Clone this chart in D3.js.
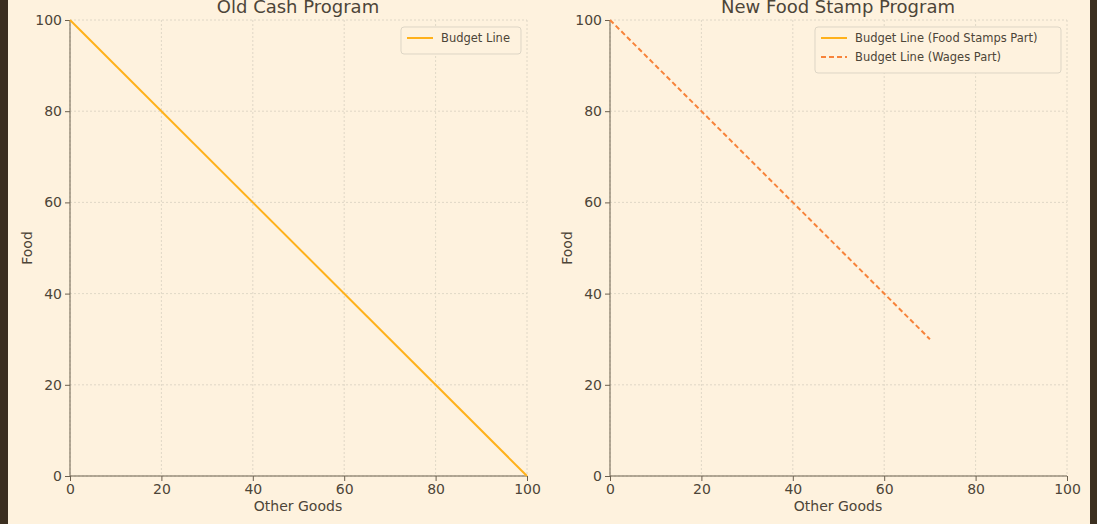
<!DOCTYPE html><html><head><meta charset="utf-8"><script src="https://cdn.jsdelivr.net/npm/d3@7"></script>
<style>body{margin:0;background:#3b2f20;}svg{display:block}</style></head><body><svg id="c" width="1097" height="524"></svg>
<script>
const oldX=[0,100], oldY=[100,0];
const fsX=[0,0], fsY=[100,100];
const wageX=[0,70], wageY=[100,30];
const ticks=[0,20,40,60,80,100];
const titles=["Old Cash Program","New Food Stamp Program"];
const svg=d3.select("#c");
svg.append("rect").attr("x",8).attr("y",0).attr("width",1082).attr("height",524).attr("fill","#fef2de");
const font="DejaVu Sans", tc="#4d4538";
function panel(x0,title,series,legend){
  const x=d3.scaleLinear().domain([0,100]).range([x0,x0+457]);
  const y=d3.scaleLinear().domain([0,100]).range([476,20]);
  const g=svg.append("g");
  ticks.forEach(t=>{
    g.append("line").attr("x1",x(t)).attr("x2",x(t)).attr("y1",20).attr("y2",476).attr("stroke","#d8d0c0").attr("stroke-dasharray","2,2").attr("stroke-width",0.8);
    g.append("line").attr("y1",y(t)).attr("y2",y(t)).attr("x1",x0).attr("x2",x0+457).attr("stroke","#d8d0c0").attr("stroke-dasharray","2,2").attr("stroke-width",0.8);
  });
  const ax=g.append("g").attr("transform","translate(0,476)").call(d3.axisBottom(x).tickValues(ticks).tickSize(5).tickPadding(3));
  const ay=g.append("g").attr("transform",`translate(${x0},0)`).call(d3.axisLeft(y).tickValues(ticks).tickSize(5).tickPadding(3));
  [ax,ay].forEach(a=>{a.selectAll("path,line").attr("stroke","#6b604f");a.selectAll("text").attr("fill",tc).attr("font-family",font).attr("font-size",14);});
  ax.select(".domain").attr("d",`M${x0},0H${x0+457}`);
  ay.select(".domain").attr("d",`M0,476V20`);
  g.append("text").attr("x",x0+228).attr("y",511).attr("text-anchor","middle").attr("font-family",font).attr("font-size",14).attr("fill",tc).text("Other Goods");
  g.append("text").attr("transform",`translate(${x0-38},248)rotate(-90)`).attr("text-anchor","middle").attr("font-family",font).attr("font-size",14).attr("fill",tc).text("Food");
  g.append("text").attr("x",x0+228).attr("y",13).attr("text-anchor","middle").attr("font-family",font).attr("font-size",18).attr("fill",tc).text(title);
  const line=d3.line().x(d=>x(d[0])).y(d=>y(d[1]));
  series.forEach(s=>{g.append("path").attr("d",line(s.xs.map((v,i)=>[v,s.ys[i]]))).attr("fill","none").attr("stroke",s.c).attr("stroke-width",2).attr("stroke-dasharray",s.dash||null);});
  const lw=legend.w, lx=x0+457-lw-6, ly=27;
  g.append("rect").attr("x",lx).attr("y",ly).attr("width",lw).attr("height",legend.items.length*19+8).attr("rx",3).attr("fill","#fef2de").attr("stroke","#ddd5c5");
  legend.items.forEach((it,i)=>{
    const yy=ly+11+i*19;
    g.append("line").attr("x1",lx+6).attr("x2",lx+32).attr("y1",yy).attr("y2",yy).attr("stroke",it.c).attr("stroke-width",2).attr("stroke-dasharray",it.dash||null);
    g.append("text").attr("x",lx+40).attr("y",yy+4).attr("font-family",font).attr("font-size",11.5).attr("fill",tc).text(it.t);
  });
}
panel(70,titles[0],[{xs:oldX,ys:oldY,c:"#ffb11a"}],{w:120,items:[{t:"Budget Line",c:"#ffb11a"}]});
panel(610,titles[1],[{xs:fsX,ys:fsY,c:"#ffb11a"},{xs:wageX,ys:wageY,c:"#f7833a",dash:"5,3"}],{w:246,items:[{t:"Budget Line (Food Stamps Part)",c:"#ffb11a"},{t:"Budget Line (Wages Part)",c:"#f7833a",dash:"5,3"}]});
</script></body></html>
